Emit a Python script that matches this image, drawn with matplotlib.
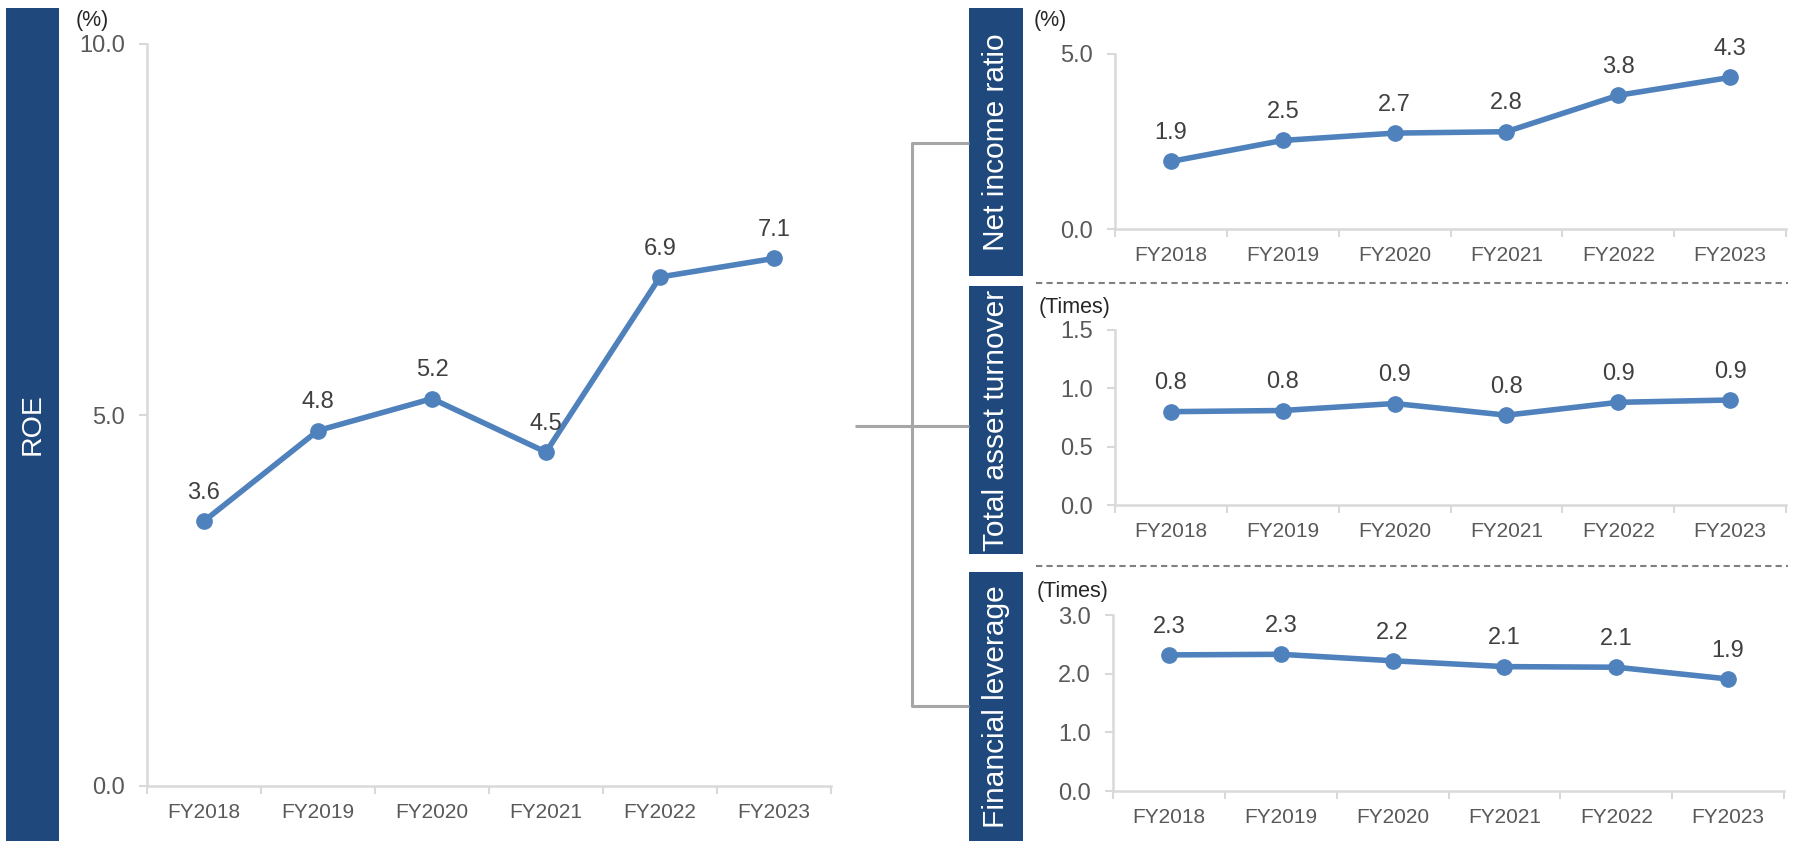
import matplotlib
matplotlib.use('Agg')
import matplotlib.pyplot as plt
from matplotlib.patches import Rectangle
from matplotlib.lines import Line2D
import numpy as np

plt.rcParams['font.family'] = ['Liberation Sans', 'DejaVu Sans']

years = ['FY2018', 'FY2019', 'FY2020', 'FY2021', 'FY2022', 'FY2023']
roe = [3.57, 4.79, 5.22, 4.50, 6.86, 7.11]
net_income_ratio = [1.93, 2.53, 2.74, 2.78, 3.82, 4.33]
asset_turnover = [0.80, 0.81, 0.87, 0.77, 0.88, 0.90]
leverage = [2.32, 2.33, 2.22, 2.12, 2.11, 1.91]

W, H = 1795, 841
NAVY = '#1F497D'
LINE = '#4F81BD'
AXIS = '#D9D9D9'
TICK = '#595959'
LABEL = '#404040'

fig = plt.figure(figsize=(W / 100, H / 100), dpi=100)


def px_axes(x0, y0, x1, y1):
    # pixel box (top-left origin) -> figure axes
    return fig.add_axes([x0 / W, 1 - y1 / H, (x1 - x0) / W, (y1 - y0) / H])


def fig_line(xs, ys, **kw):
    fig.add_artist(Line2D([x / W for x in xs], [1 - y / H for y in ys],
                          transform=fig.transFigure, **kw))


def blue_box(x0, y0, x1, y1, text, size=21.5):
    fig.add_artist(Rectangle((x0 / W, 1 - y1 / H), (x1 - x0) / W, (y1 - y0) / H,
                             transform=fig.transFigure, color=NAVY, lw=0))
    fig.text((x0 + x1) / 2 / W, 1 - (y0 + y1) / 2 / H, text, rotation=90,
             color='white', fontsize=size, ha='center', va='center')


def draw_panel(ax, values, ymax, step, unit, unit_pos):
    x = np.arange(len(years))
    ax.plot(x, values, color=LINE, lw=4, marker='o', ms=11, clip_on=False, zorder=3)
    for xi, v in zip(x, values):
        ax.annotate(f'{v:.1f}', (xi, v), xytext=(0, 16), textcoords='offset points',
                    ha='center', va='baseline', fontsize=17, color=LABEL)
    ax.set_xlim(-0.5, len(years) - 0.5)
    ax.set_ylim(0, ymax)
    ax.set_yticks(np.arange(0, ymax + step / 2, step))
    ax.yaxis.set_major_formatter(matplotlib.ticker.FormatStrFormatter('%.1f'))
    ax.set_xticks(x)
    ax.set_xticklabels(years)
    ax.set_xticks(np.arange(-0.5, len(years)), minor=True)
    ax.tick_params(axis='x', which='major', length=0, pad=12, labelsize=15, labelcolor=TICK)
    ax.tick_params(axis='x', which='minor', length=6, width=1.5, color=AXIS)
    ax.tick_params(axis='y', length=6, width=1.5, color=AXIS, pad=10,
                   labelsize=17, labelcolor=TICK)
    for s in ['top', 'right']:
        ax.spines[s].set_visible(False)
    for s in ['left', 'bottom']:
        ax.spines[s].set_color(AXIS)
        ax.spines[s].set_linewidth(1.8)
    ax.text(unit_pos[0], unit_pos[1], unit, transform=ax.transAxes, fontsize=15.5,
            color='#262626', ha='center', va='center')
    ax.patch.set_alpha(0)


# ROE (left)
ax_roe = px_axes(147, 44, 831, 786)
draw_panel(ax_roe, roe, 10, 5, '(%)', (-0.08, 1.031))
blue_box(6, 8, 59, 841, 'ROE', size=20.5)

# right-hand breakdown
ax_ni = px_axes(1115, 54, 1786, 229)
draw_panel(ax_ni, net_income_ratio, 5, 5, '(%)', (-0.097, 1.19))
ax_tat = px_axes(1115, 330, 1786, 505)
draw_panel(ax_tat, asset_turnover, 1.5, 0.5, '(Times)', (-0.06, 1.13))
ax_fl = px_axes(1113, 615, 1784, 791)
draw_panel(ax_fl, leverage, 3, 1, '(Times)', (-0.06, 1.136))

blue_box(969, 8, 1023, 276, 'Net income ratio')
blue_box(969, 286, 1023, 554, 'Total asset turnover')
blue_box(969, 572, 1023, 841, 'Financial leverage')

# separators
for y in [283, 566]:
    fig_line([1036, 1788], [y, y], color='#808080', lw=1.5, ls=(0, (3, 2)))

# bracket
bk = dict(color='#A6A6A6', lw=2.2, solid_capstyle='butt')
fig_line([969, 912, 912, 969], [143, 143, 706, 706], **bk)
fig_line([855, 969], [426, 426], **bk)

fig.savefig('out.png', dpi=100)
